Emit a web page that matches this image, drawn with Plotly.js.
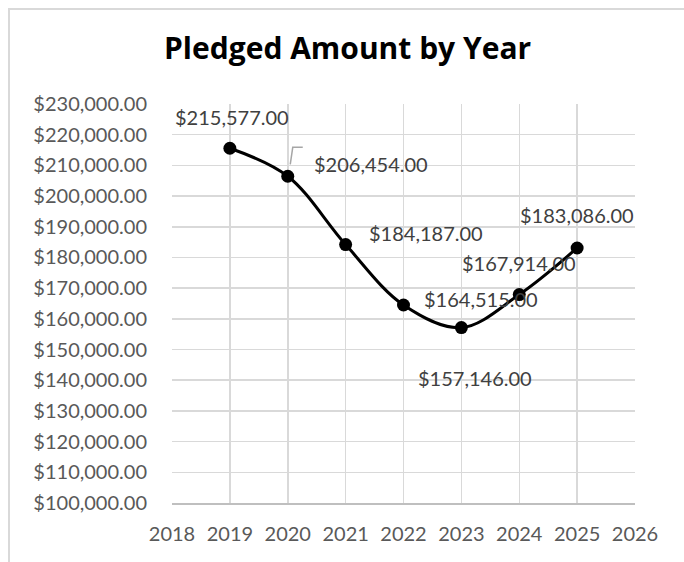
<!DOCTYPE html>
<html>
<head>
<meta charset="utf-8">
<script src="https://cdn.plot.ly/plotly-3.0.1.min.js"></script>
<style>
  html, body { margin: 0; padding: 0; background: #ffffff; }
  #chart { position: absolute; left: 0; top: 0; width: 684px; height: 562px; }
  #frame { position: absolute; left: 8px; top: 8px; width: 690px; height: 570px;
           border-left: 2px solid #d9d9d9; border-top: 2px solid #d9d9d9; pointer-events: none; }
</style>
</head>
<body>
<div id="chart"></div>
<div id="frame"></div>
<script>
const years = [2019, 2020, 2021, 2022, 2023, 2024, 2025];
const pledged = [215577, 206454, 184187, 164515, 157146, 167914, 183086];
const labelTexts = ["$215,577.00", "$206,454.00", "$184,187.00", "$164,515.00", "$157,146.00", "$167,914.00", "$183,086.00"];
// label offsets in pixels (dx, dy) relative to each point
const labelDx = [2, 83, 80, 77, 14, 0, 0];
const labelDy = [31, 12, 12, 6, -50, 32, 33];

const trace = {
  x: years,
  y: pledged,
  type: 'scatter',
  mode: 'lines+markers',
  line: { color: '#000000', width: 3, shape: 'spline', smoothing: 1 },
  marker: { color: '#000000', size: 13 },
  hoverinfo: 'skip'
};

const labelFont = { family: 'Lato, sans-serif', size: 20, color: '#404040' };
const annotations = years.map((yr, i) => ({
  x: yr, y: pledged[i], xref: 'x', yref: 'y',
  text: labelTexts[i], showarrow: false,
  xshift: labelDx[i], yshift: labelDy[i],
  font: labelFont
}));
annotations.push({
  xref: 'paper', yref: 'paper', x: 0.378, y: 1.0, yanchor: 'bottom',
  yshift: 34, text: '<b>Pledged Amount by Year</b>', showarrow: false,
  font: { family: '"Open Sans", sans-serif', size: 30, color: '#000000' }
});

// leader line for the 2020 label
const leader = {
  type: 'path', xref: 'x', yref: 'y',
  xsizemode: 'pixel', ysizemode: 'pixel',
  xanchor: years[1], yanchor: pledged[1],
  path: 'M 2.5 12 L 5 29 L 15 29',
  line: { color: '#a6a6a6', width: 1.5 }
};

const tickFont = { family: 'Lato, sans-serif', size: 20, color: '#595959' };
const layout = {
  width: 684, height: 562,
  margin: { l: 172, r: 49, t: 104, b: 59 },
  paper_bgcolor: '#ffffff', plot_bgcolor: '#ffffff',
  showlegend: false,
  xaxis: {
    range: [2018, 2026], dtick: 1, tick0: 2018,
    showgrid: true, gridcolor: '#d9d9d9', gridwidth: 1.5,
    zeroline: false, showline: true, linecolor: '#bfbfbf', linewidth: 2,
    ticks: '', ticklen: 0, ticklabelstandoff: 12,
    tickfont: tickFont
  },
  yaxis: {
    range: [100000, 230000], dtick: 10000,
    tickformat: '$,.2f',
    showgrid: true, gridcolor: '#d9d9d9', gridwidth: 1.5,
    zeroline: false, showline: false,
    ticks: '', ticklen: 0, ticklabelstandoff: 24,
    tickfont: tickFont
  },
  shapes: [leader],
  annotations: annotations
};

Plotly.newPlot('chart', [trace], layout, { staticPlot: true, displayModeBar: false });
</script>
</body>
</html>
